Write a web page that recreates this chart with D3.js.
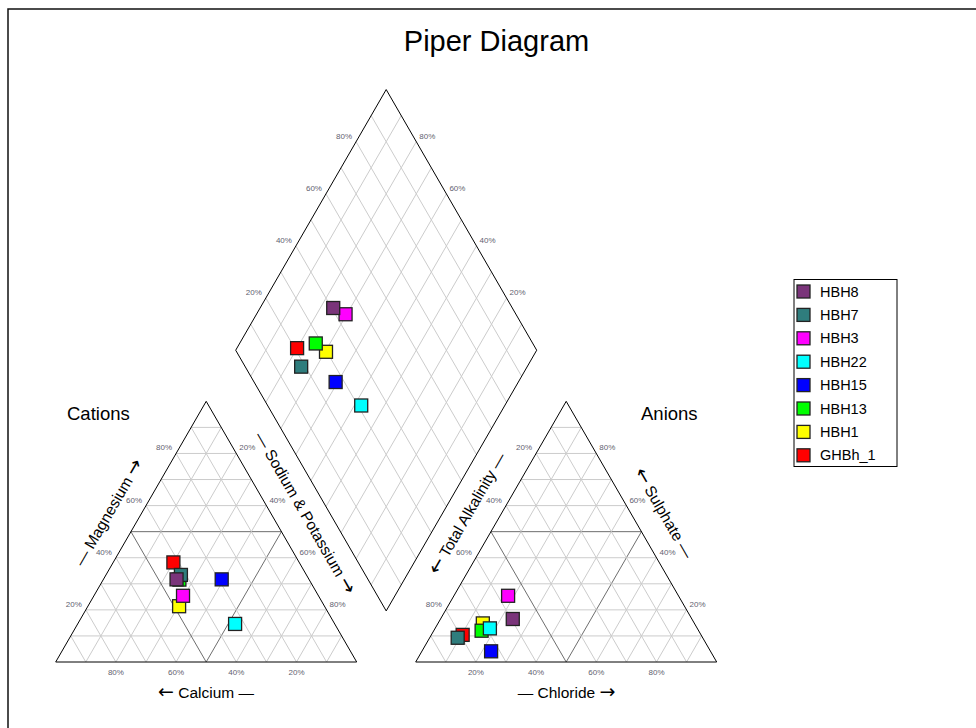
<!DOCTYPE html>
<html>
<head>
<meta charset="utf-8">
<script src="https://cdn.jsdelivr.net/npm/d3@7"></script>
<style>
  body { margin: 0; background: #fff; }
  text { font-family: "Liberation Sans", Arial, sans-serif; }
  .arrow { font-family: "DejaVu Sans", sans-serif; font-size: 19px; }
</style>
</head>
<body>
<svg class="one"></svg>
<script>
// sample names, in legend order
var samples = ['HBH8', 'HBH7', 'HBH3', 'HBH22', 'HBH15', 'HBH13', 'HBH1', 'GHBh_1'];
var colors = ['#7a347a', '#2f7d7d', '#ff00ff', '#00ffff', '#0000ff', '#00ff00', '#ffff00', '#ff0000'];

// cations, percent of meq
var calcium   = [44.0, 41.7, 45.0, 33.1, 29.0, 43.1, 48.3, 41.8];
var magnesium = [31.7, 33.4, 25.4, 14.6, 31.7, 31.6, 21.4, 38.2];
var sodium    = [24.3, 24.9, 29.6, 52.3, 39.3, 25.3, 30.3, 20.0];

// anions, percent of meq
var alkalinity = [59.5, 81.4, 56.6, 68.9, 72.9, 72.1, 70.3, 79.2];
var chloride   = [24.0,  9.3, 18.0, 18.2, 23.0, 15.9, 14.9, 10.4];
var sulphate   = [16.5,  9.3, 25.4, 12.9,  4.1, 12.0, 14.8, 10.4];

var tickValues = [20, 40, 60, 80];

var svgwidth = 976, svgheight = 728;
var svg = d3.select('.one').attr('width', svgwidth).attr('height', svgheight);

var H = Math.sqrt(3) / 2;
var gap = 0.196;            // space between the two triangles, in side units
var off = 1 + gap;          // x offset of anion triangle

var xScale = d3.scaleLinear().domain([0, 1]).range([55.7, 356.7]);
var yScale = d3.scaleLinear().domain([0, 1]).range([662, 361]);

var px = function(p) { return [xScale(p[0]), yScale(p[1])]; };

// frame
svg.append('rect')
   .attr('x', 8).attr('y', 9).attr('width', 1000).attr('height', 1000)
   .attr('fill', 'none').attr('stroke', '#111').attr('stroke-width', 1.5);

svg.append('text')
   .attr('x', 496.5).attr('y', 51)
   .attr('text-anchor', 'middle')
   .style('font-size', '29px')
   .text('Piper Diagram');

var grid = svg.append('g');
var seg = function(a, b, color) {
  var p = px(a), q = px(b);
  grid.append('line')
      .attr('x1', p[0]).attr('y1', p[1]).attr('x2', q[0]).attr('y2', q[1])
      .attr('stroke', color).attr('stroke-width', 1);
};

// triangles
var triangle = function(x0) {
  for (var i = 1; i < 10; i++) {
    var k = i / 10;
    var c = i == 5 ? '#6e6e6e' : '#cccccc';
    seg([x0 + k / 2, k * H], [x0 + 1 - k / 2, k * H], c);
    seg([x0 + k, 0], [x0 + k + (1 - k) / 2, (1 - k) * H], c);
    seg([x0 + k, 0], [x0 + k / 2, k * H], c);
  }
  var outline = [[x0, 0], [x0 + 1, 0], [x0 + 0.5, H], [x0, 0]];
  grid.append('path')
      .attr('d', d3.line()(outline.map(px)))
      .attr('fill', 'none').attr('stroke', '#000').attr('stroke-width', 1);
};
triangle(0);
triangle(off);

// diamond: a = Na+K fraction, b = off + (1 - alkalinity fraction)
var dpt = function(n, alk) {
  var a = n, b = off + (1 - alk);
  return [(a + b) / 2, (b - a) * H];
};
for (var i = 1; i < 10; i++) {
  var k = i / 10;
  seg(dpt(k, 1), dpt(k, 0), '#cccccc');
  seg(dpt(0, k), dpt(1, k), '#cccccc');
}
var diamond = [dpt(1, 1), dpt(0, 1), dpt(0, 0), dpt(1, 0), dpt(1, 1)];
grid.append('path')
    .attr('d', d3.line()(diamond.map(px)))
    .attr('fill', 'none').attr('stroke', '#000').attr('stroke-width', 1);

// tick labels
var ticks = svg.append('g').style('font-size', '8px').attr('fill', '#5f6270');
var tick = function(p, label, side) {
  var q = px(p);
  var t = ticks.append('text').text(label + '%');
  if (side == 'left') {
    t.attr('x', q[0] - 4).attr('y', q[1] - 3).attr('text-anchor', 'end');
  } else if (side == 'right') {
    t.attr('x', q[0] + 3).attr('y', q[1] - 3).attr('text-anchor', 'start');
  } else {
    t.attr('x', q[0]).attr('y', q[1] + 13).attr('text-anchor', 'middle');
  }
};
tickValues.forEach(function(v) {
  var k = v / 100;
  // cations
  tick([k / 2, k * H], v, 'left');              // magnesium
  tick([1 - k / 2, k * H], 100 - v, 'right');   // sodium & potassium
  tick([k, 0], 100 - v, 'bottom');              // calcium
  // anions
  tick([off + k / 2, k * H], 100 - v, 'left');     // alkalinity
  tick([off + 1 - k / 2, k * H], v, 'right');      // sulphate
  tick([off + k, 0], v, 'bottom');                 // chloride
  // diamond
  tick(dpt(0, 1 - k), v, 'left');
  tick(dpt(1 - k, 0), v, 'right');
});

// titles
svg.append('text').attr('x', 67).attr('y', 420).style('font-size', '18.5px').text('Cations');
svg.append('text').attr('x', 641).attr('y', 420).style('font-size', '18.5px').text('Anions');

// axis titles: arrow before or after the name
var axisTitle = function(x, y, angle, name, arrowFirst) {
  var t = svg.append('text')
     .attr('transform', 'translate(' + x + ',' + y + ') rotate(' + angle + ')')
     .attr('text-anchor', 'middle')
     .attr('dy', '0.35em')
     .style('font-size', '15.5px');
  if (arrowFirst) {
    t.append('tspan').classed('arrow', true).text('\u2190');
    t.append('tspan').text(' ' + name + ' \u2014');
  } else {
    t.append('tspan').text('\u2014 ' + name + ' ');
    t.append('tspan').classed('arrow', true).text('\u2192');
  }
};
axisTitle(206, 692.5, 0, 'Calcium', true);
axisTitle(566.5, 692.5, 0, 'Chloride', false);
axisTitle(108.5, 512.5, -60, 'Magnesium', false);
axisTitle(305, 513, 60, 'Sodium & Potassium', false);
axisTitle(467.5, 513.5, -60, 'Total Alkalinity', true);
axisTitle(664, 513, 60, 'Sulphate', true);

// points, drawn last-to-first so the first samples sit on top
var order = d3.range(samples.length).reverse();
var msize = 13;
var marks = svg.append('g');
var square = function(p, i) {
  var q = px(p);
  marks.append('rect')
       .attr('x', q[0] - msize / 2).attr('y', q[1] - msize / 2)
       .attr('width', msize).attr('height', msize)
       .attr('fill', colors[i]).attr('stroke', '#222').attr('stroke-width', 1.3);
};
order.forEach(function(i) {
  var mg = magnesium[i] / 100, na = sodium[i] / 100;
  var so4 = sulphate[i] / 100, cl = chloride[i] / 100;
  square([na + mg / 2, mg * H], i);
  square([off + cl + so4 / 2, so4 * H], i);
  square(dpt(na, alkalinity[i] / 100), i);
});

// legend
var legend = svg.append('g');
legend.append('rect')
      .attr('x', 794).attr('y', 279.5).attr('width', 103).attr('height', 187)
      .attr('fill', '#fff').attr('stroke', '#000').attr('stroke-width', 1);
samples.forEach(function(s, i) {
  var y = 291.5 + i * 23.4;
  legend.append('rect')
        .attr('x', 797).attr('y', y - 6.5).attr('width', 13).attr('height', 13)
        .attr('fill', colors[i]).attr('stroke', '#222').attr('stroke-width', 1.3);
  legend.append('text')
        .attr('x', 820).attr('y', y).attr('dy', '0.35em')
        .style('font-size', '14.5px')
        .text(s);
});
</script>
</body>
</html>
